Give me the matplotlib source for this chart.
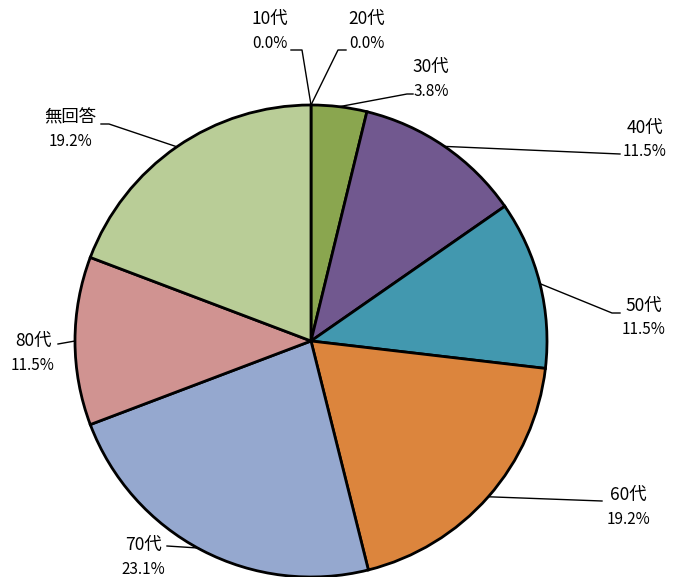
import matplotlib
matplotlib.use("Agg")
import matplotlib.pyplot as plt
import numpy as np

plt.rcParams['font.family'] = ['Noto Sans CJK JP', 'DejaVu Sans']

labels = ['10代', '20代', '30代', '40代', '50代', '60代', '70代', '80代', '無回答']
values = [0.0, 0.0, 3.8, 11.5, 11.5, 19.2, 23.1, 11.5, 19.2]
colors = ['#8AA64F', '#8AA64F', '#8AA64F', '#71588F', '#4298AF',
          '#DC853D', '#95A8CF', '#D09391', '#B9CD97']

W, H = 679, 577
cx, cy, r = 311, 341, 236   # pie centre / radius in pixels (y from top)

def fy(y):
    return H - y

fig = plt.figure(figsize=(W / 100, H / 100), dpi=100)
ax = fig.add_axes([0, 0, 1, 1])

ax.pie(values, colors=colors, startangle=90, counterclock=False,
       center=(cx, fy(cy)), radius=r, frame=True,
       wedgeprops=dict(edgecolor='black', linewidth=2))
ax.set_xlim(0, W)
ax.set_ylim(0, H)
ax.axis('off')

# label text positions (centre x, name y) and leader-line end points
label_pos = [(270, 19), (367, 19), (431, 67), (645, 128), (644, 306),
             (628, 495), (143, 545), (33, 341), (70, 117)]
leader = [
    [(302, 50), (291, 50)],
    [(338, 50), (346, 50)],
    [(407, 94), (413, 94)],
    [(620, 154)],
    [(612, 313), (620, 313)],
    [(602, 501)],
    [(198, 548), (167, 546)],
    [(58, 344)],
    [(109, 124), (101, 124)],
]

total = sum(values)
cum = 0
for i, (lab, v) in enumerate(zip(labels, values)):
    mid = cum + v / 2
    cum += v
    th = np.deg2rad(90 - 360 * mid / total)
    x0 = cx + r * np.cos(th)
    y0 = cy - r * np.sin(th)
    pts = [(x0, y0)] + leader[i]
    ax.plot([p[0] for p in pts], [fy(p[1]) for p in pts],
            color='black', linewidth=1, zorder=5)
    tx, ty = label_pos[i]
    ax.text(tx, fy(ty), lab, ha='center', va='center', fontsize=12.5)
    ax.text(tx, fy(ty + 24), '{:.1f}%'.format(v), ha='center', va='center',
            fontsize=11)

fig.savefig('out.png', dpi=100)
